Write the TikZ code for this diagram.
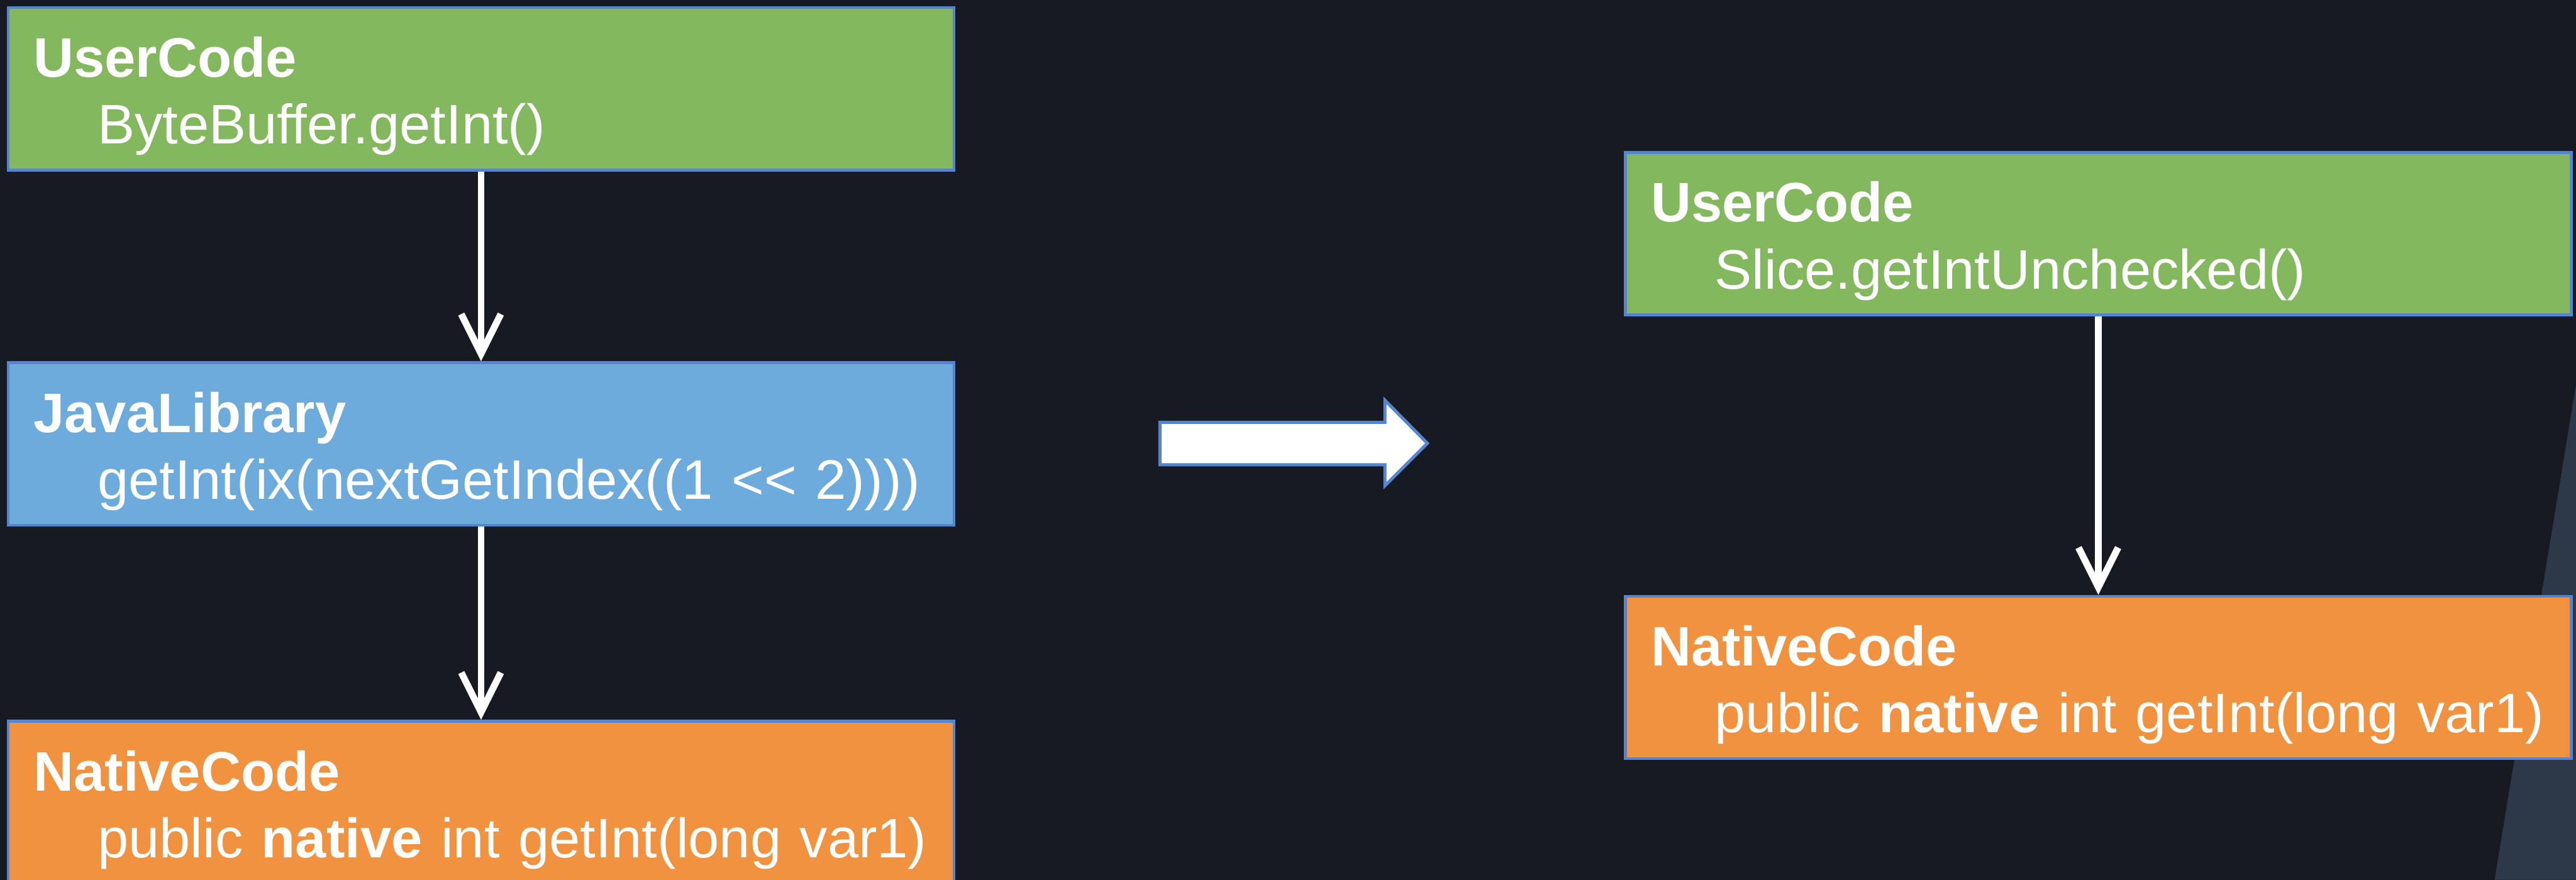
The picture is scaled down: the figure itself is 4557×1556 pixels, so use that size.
\documentclass[tikz,border=0pt]{standalone}
\usepackage{fontspec}
\setmainfont{Liberation Sans}
\usetikzlibrary{arrows.meta,positioning}
\definecolor{bgdark}{HTML}{171A21}
\definecolor{panelgray}{HTML}{2D3949}
\definecolor{boxline}{HTML}{5585CE}
\definecolor{usergreen}{HTML}{83B85E}
\definecolor{javablue}{HTML}{6CABDC}
\definecolor{nativeorange}{HTML}{F0923F}
\newcommand{\boxtext}[2]{\rule{0pt}{1.23cm}\textbf{#1}\\\hspace*{1.13cm}#2\rule[-0.46cm]{0pt}{0pt}}
\tikzset{
	codebox/.style={draw=boxline, line width=0.05cm, text=white, align=left, anchor=north west,
		inner xsep=0.45cm, inner ysep=0pt, text width=15.82cm, minimum height=2.87cm,
		font=\fontsize{28pt}{33.6pt}\selectfont},
	usercode/.style={codebox, fill=usergreen},
	javalib/.style={codebox, fill=javablue},
	nativecode/.style={codebox, fill=nativeorange},
	calls/.style={draw=white, line width=0.12cm, -{Straight Barb[length=0.7cm, width=0.7cm]}},
}
\begin{document}
\begin{tikzpicture}[x=0.01cm, y=-0.01cm]
	\useasboundingbox (0,0) rectangle (4557,1556);
	\fill [bgdark] (0,0) rectangle (4557,1556);
	\fill [panelgray] (4557,680) -- (4557,1556) -- (4413,1556) -- cycle;
	% before
	\node [usercode] (lUser) at (12,11) {\boxtext{UserCode}{ByteBuffer.getInt()}};
	\node [javalib] (lJava) at (12,639) {\boxtext{JavaLibrary}{getInt(ix(nextGetIndex((1 <{}< 2))))}};
	\node [nativecode] (lNative) at (12,1273) {\boxtext{NativeCode}{public \textbf{native} int getInt(long var1)}};
	\draw [calls] (lUser) -- (lJava);
	\draw [calls] (lJava) -- (lNative);
	% after
	\node [usercode] (rUser) at (2873,267) {\boxtext{UserCode}{Slice.getIntUnchecked()}};
	\node [nativecode] (rNative) at (2873,1052) {\boxtext{NativeCode}{public \textbf{native} int getInt(long var1)}};
	\draw [calls] (rUser) -- (rNative);
	% block arrow
	\draw [fill=white, draw=boxline, line width=0.055cm] (2052,747) -- (2450,747) -- (2450,708) -- (2525,784) -- (2450,859) -- (2450,822) -- (2052,822) -- cycle;
\end{tikzpicture}
\end{document}
